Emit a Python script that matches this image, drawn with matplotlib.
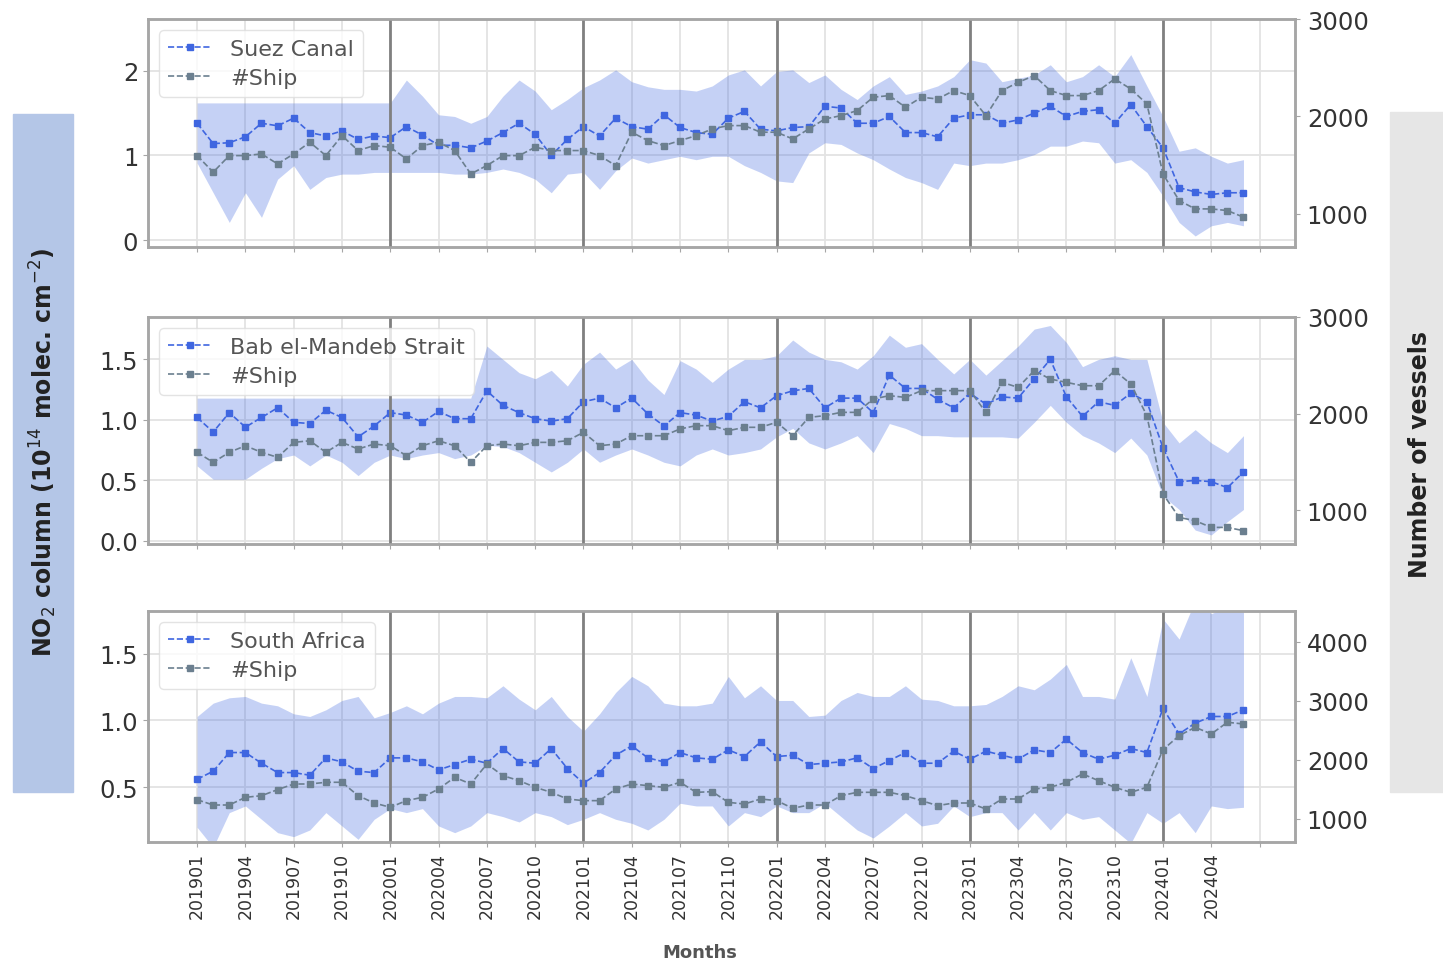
import numpy as np
import matplotlib.pyplot as plt
from matplotlib.patches import Rectangle

# month labels 2019-01 .. 2024-06
months = [f'{y}{m:02d}' for y in range(2019, 2025) for m in range(1, 13)][:66]
tick_labels = months[::3] + ['']

# Suez Canal
suez_no2 = [1.38, 1.14, 1.15, 1.22, 1.38, 1.35, 1.44, 1.27, 1.23, 1.29, 1.19, 1.23,
            1.21, 1.34, 1.24, 1.12, 1.12, 1.09, 1.17, 1.27, 1.38, 1.25, 1.00, 1.19,
            1.34, 1.23, 1.44, 1.34, 1.31, 1.48, 1.33, 1.27, 1.25, 1.44, 1.52, 1.31,
            1.29, 1.33, 1.34, 1.58, 1.56, 1.38, 1.38, 1.46, 1.27, 1.27, 1.22, 1.44,
            1.48, 1.48, 1.38, 1.42, 1.50, 1.58, 1.46, 1.52, 1.54, 1.38, 1.60, 1.34,
            1.09, 0.62, 0.57, 0.54, 0.56, 0.56]
suez_hi = [1.62, 1.62, 1.62, 1.62, 1.62, 1.62, 1.62, 1.62, 1.62, 1.62, 1.62, 1.62,
           1.62, 1.89, 1.70, 1.48, 1.46, 1.38, 1.46, 1.70, 1.89, 1.76, 1.54, 1.66,
           1.80, 1.89, 2.01, 1.87, 1.81, 1.78, 1.78, 1.76, 1.82, 1.95, 2.01, 1.82,
           1.99, 2.01, 1.86, 1.95, 1.78, 1.66, 1.82, 1.93, 1.72, 1.76, 1.82, 1.93,
           2.13, 2.09, 1.87, 1.91, 1.95, 2.07, 1.87, 1.93, 2.07, 1.93, 2.19, 1.82,
           1.46, 1.05, 1.09, 0.99, 0.91, 0.95]
suez_lo = [0.91, 0.56, 0.21, 0.56, 0.27, 0.72, 0.88, 0.60, 0.74, 0.78, 0.78, 0.80,
           0.80, 0.80, 0.80, 0.80, 0.78, 0.78, 0.80, 0.84, 0.80, 0.72, 0.56, 0.78,
           0.80, 0.60, 0.82, 0.97, 0.91, 0.95, 0.99, 0.95, 0.99, 0.99, 0.88, 0.80,
           0.70, 0.68, 1.03, 1.15, 1.13, 1.03, 0.95, 0.84, 0.74, 0.68, 0.60, 0.91,
           0.88, 0.91, 0.91, 0.95, 1.01, 1.11, 1.11, 1.17, 1.15, 0.91, 0.95, 0.80,
           0.52, 0.21, 0.05, 0.17, 0.21, 0.17]
suez_ship = [1598, 1428, 1598, 1598, 1615, 1513, 1615, 1735, 1598, 1803, 1650, 1701,
             1684, 1564, 1701, 1735, 1650, 1410, 1496, 1598, 1598, 1684, 1650, 1650,
             1650, 1598, 1496, 1838, 1752, 1701, 1752, 1803, 1872, 1906, 1906, 1838,
             1838, 1769, 1872, 1974, 2008, 2060, 2197, 2214, 2094, 2197, 2179, 2265,
             2214, 2008, 2265, 2350, 2419, 2265, 2214, 2214, 2265, 2385, 2282, 2128,
             1410, 1137, 1051, 1051, 1034, 966]

# Bab el-Mandeb Strait
bab_no2 = [1.02, 0.90, 1.06, 0.94, 1.02, 1.10, 0.98, 0.97, 1.08, 1.02, 0.86, 0.95,
           1.06, 1.04, 0.98, 1.07, 1.01, 1.01, 1.24, 1.12, 1.06, 1.01, 0.99, 1.01,
           1.15, 1.18, 1.10, 1.18, 1.05, 0.95, 1.06, 1.04, 0.99, 1.03, 1.15, 1.10,
           1.20, 1.24, 1.26, 1.10, 1.18, 1.18, 1.06, 1.37, 1.26, 1.26, 1.17, 1.10,
           1.22, 1.13, 1.19, 1.18, 1.34, 1.50, 1.19, 1.03, 1.15, 1.12, 1.22, 1.15,
           0.77, 0.49, 0.50, 0.49, 0.44, 0.57]
bab_hi = [1.18, 1.18, 1.18, 1.18, 1.18, 1.18, 1.18, 1.18, 1.18, 1.18, 1.18, 1.18,
          1.18, 1.18, 1.18, 1.18, 1.18, 1.18, 1.61, 1.50, 1.39, 1.34, 1.41, 1.28,
          1.46, 1.56, 1.42, 1.50, 1.33, 1.21, 1.49, 1.42, 1.31, 1.42, 1.50, 1.50,
          1.53, 1.66, 1.56, 1.50, 1.48, 1.42, 1.53, 1.70, 1.60, 1.63, 1.50, 1.38,
          1.50, 1.37, 1.49, 1.61, 1.75, 1.78, 1.64, 1.44, 1.50, 1.53, 1.50, 1.50,
          0.98, 0.81, 0.92, 0.81, 0.73, 0.87]
bab_lo = [0.62, 0.51, 0.51, 0.51, 0.60, 0.68, 0.71, 0.62, 0.71, 0.65, 0.54, 0.65,
          0.71, 0.68, 0.71, 0.73, 0.68, 0.71, 0.79, 0.78, 0.73, 0.65, 0.57, 0.65,
          0.76, 0.65, 0.71, 0.76, 0.71, 0.65, 0.62, 0.71, 0.76, 0.71, 0.73, 0.76,
          0.86, 0.93, 0.81, 0.76, 0.81, 0.87, 0.73, 0.97, 0.93, 0.87, 0.87, 0.86,
          0.86, 0.86, 0.86, 0.85, 0.98, 1.12, 0.98, 0.87, 0.81, 0.73, 0.85, 0.71,
          0.37, 0.26, 0.09, 0.05, 0.16, 0.26]
bab_ship = [1598, 1494, 1598, 1666, 1598, 1546, 1701, 1718, 1598, 1701, 1632, 1684,
            1666, 1563, 1666, 1718, 1666, 1494, 1666, 1684, 1666, 1701, 1701, 1718,
            1805, 1666, 1684, 1770, 1770, 1770, 1840, 1874, 1874, 1822, 1857, 1857,
            1909, 1770, 1960, 1978, 2012, 2012, 2150, 2185, 2167, 2237, 2237, 2237,
            2237, 2012, 2323, 2271, 2444, 2357, 2323, 2288, 2288, 2444, 2306, 1978,
            1166, 924, 889, 820, 820, 786]

# South Africa
sa_no2 = [0.56, 0.62, 0.76, 0.76, 0.68, 0.61, 0.61, 0.59, 0.72, 0.69, 0.62, 0.61,
          0.72, 0.72, 0.69, 0.63, 0.67, 0.71, 0.68, 0.79, 0.69, 0.68, 0.79, 0.64,
          0.53, 0.61, 0.74, 0.81, 0.72, 0.69, 0.76, 0.72, 0.71, 0.78, 0.73, 0.84,
          0.73, 0.74, 0.67, 0.68, 0.69, 0.72, 0.64, 0.70, 0.76, 0.68, 0.68, 0.77,
          0.71, 0.77, 0.74, 0.71, 0.78, 0.76, 0.86, 0.76, 0.71, 0.74, 0.79, 0.76,
          1.09, 0.90, 0.98, 1.03, 1.03, 1.08]
sa_hi = [1.03, 1.13, 1.17, 1.18, 1.13, 1.11, 1.05, 1.03, 1.08, 1.15, 1.18, 1.02,
         1.06, 1.11, 1.05, 1.13, 1.18, 1.18, 1.17, 1.26, 1.16, 1.08, 1.18, 1.03,
         0.92, 1.05, 1.21, 1.33, 1.26, 1.13, 1.11, 1.11, 1.13, 1.33, 1.17, 1.26,
         1.15, 1.15, 1.03, 1.04, 1.15, 1.21, 1.18, 1.18, 1.26, 1.16, 1.15, 1.11,
         1.11, 1.12, 1.18, 1.26, 1.23, 1.31, 1.42, 1.18, 1.18, 1.16, 1.47, 1.18,
         1.76, 1.61, 1.90, 1.80, 1.85, 1.90]
sa_lo = [0.20, 0.05, 0.31, 0.36, 0.26, 0.16, 0.13, 0.18, 0.31, 0.21, 0.11, 0.26,
         0.34, 0.31, 0.34, 0.21, 0.16, 0.21, 0.31, 0.28, 0.24, 0.31, 0.28, 0.22,
         0.26, 0.31, 0.26, 0.23, 0.18, 0.26, 0.38, 0.36, 0.36, 0.21, 0.31, 0.28,
         0.36, 0.31, 0.31, 0.38, 0.28, 0.18, 0.12, 0.21, 0.31, 0.21, 0.23, 0.36,
         0.28, 0.31, 0.31, 0.18, 0.31, 0.18, 0.31, 0.26, 0.28, 0.18, 0.08, 0.31,
         0.23, 0.31, 0.16, 0.36, 0.34, 0.35]
sa_ship = [1327, 1237, 1237, 1367, 1395, 1497, 1593, 1593, 1622, 1622, 1395, 1271,
           1198, 1311, 1367, 1508, 1706, 1593, 1932, 1734, 1650, 1537, 1452, 1339,
           1311, 1311, 1508, 1593, 1565, 1537, 1622, 1452, 1463, 1282, 1254, 1339,
           1311, 1181, 1237, 1237, 1395, 1452, 1452, 1452, 1395, 1311, 1226, 1271,
           1271, 1169, 1339, 1339, 1508, 1537, 1622, 1763, 1650, 1537, 1452, 1537,
           2175, 2412, 2554, 2441, 2639, 2610]

regions = ['Suez Canal', 'Bab el-Mandeb Strait', 'South Africa']

BLUE = '#3f66e0'
GREY = '#6b7f8f'
TXT = '#333333'


def draw_panel(rect, region, no2, lo, hi, ship, ylim, yticks, ylim2, yticks2, show_x):
    ax = fig.add_axes(rect)
    x = np.arange(len(no2))
    ax.fill_between(x, lo, hi, color='royalblue', alpha=0.3, lw=0)
    l1, = ax.plot(x, no2, ls='--', color=BLUE, lw=1.2, marker='s', ms=5,
                  label=region)
    for xi in range(12, len(no2), 12):
        ax.axvline(xi, color='#808080', lw=2, zorder=3)
    ax.set_xlim(-3.05, 68.2)
    ax.set_ylim(*ylim)
    ax.set_yticks(yticks)
    ax.set_xticks(np.arange(0, 67, 3))
    ax.grid(True, color='#e3e3e3', lw=1.3)
    ax.set_axisbelow(True)
    if show_x:
        ax.set_xticklabels(tick_labels, rotation=90, fontsize=12.5, color=TXT)
    else:
        ax.set_xticklabels([])

    ax2 = ax.twinx()
    l2, = ax2.plot(x, ship, ls='--', color=GREY, lw=1.2, marker='s', ms=4.5,
                   label='#Ship')
    ax2.set_ylim(*ylim2)
    ax2.set_yticks(yticks2)

    for a in (ax, ax2):
        for s in a.spines.values():
            s.set_color('#a6a6a6')
            s.set_linewidth(1.8)
        a.tick_params(axis='y', labelsize=17.5, labelcolor=TXT, color='#a6a6a6')
        a.tick_params(axis='x', color='#a6a6a6')
    ax2.tick_params(axis='y', pad=5)

    leg = ax2.legend(handles=[l1, l2], loc='upper left', fontsize=16,
                     framealpha=0.8, edgecolor='#dddddd', borderpad=0.4,
                     labelspacing=0.4)
    for t in leg.get_texts():
        t.set_color('#555555')
    return ax


fig = plt.figure(figsize=(14.43, 9.62), dpi=100)

L, W = 148 / 1443, (1295 - 148) / 1443


def rect(top, bottom):
    return [L, 1 - bottom / 962, W, (bottom - top) / 962]


draw_panel(rect(20, 248), regions[0], suez_no2, suez_lo, suez_hi, suez_ship,
           (-0.08, 2.61), [0, 1, 2], (660, 3000), [1000, 2000, 3000], False)
draw_panel(rect(318, 545), regions[1], bab_no2, bab_lo, bab_hi, bab_ship,
           (-0.025, 1.85), [0.0, 0.5, 1.0, 1.5], (648, 3000), [1000, 2000, 3000], False)
draw_panel(rect(612, 843), regions[2], sa_no2, sa_lo, sa_hi, sa_ship,
           (0.09, 1.82), [0.5, 1.0, 1.5], (610, 4525), [1000, 2000, 3000, 4000], True)

# side label boxes
fig.patches.append(Rectangle((13 / 1443, 1 - 793 / 962), 60 / 1443, 678 / 962,
                             transform=fig.transFigure, color='#b4c6e7', zorder=0))
fig.patches.append(Rectangle((1390 / 1443, 1 - 793 / 962), 53 / 1443, 680 / 962,
                             transform=fig.transFigure, color='#e6e6e6', zorder=0))
fig.text(43 / 1443, 1 - 452 / 962, r'NO$_2$ column (10$^{14}$ molec. cm$^{-2}$)',
         rotation=90, ha='center', va='center', fontsize=17, fontweight='bold',
         color='#222222')
fig.text(1420 / 1443, 1 - 455 / 962, 'Number of vessels', rotation=90,
         ha='center', va='center', fontsize=17, fontweight='bold', color='#222222')

fig.text(700 / 1443, 1 - 953 / 962, 'Months', ha='center', va='center',
         fontsize=13, fontweight='bold', color='#555555')
# title sits mostly above the top edge, as in the source image
fig.text(735 / 1443, 1 + 5 / 962, 'Monthly NO$_2$ and shipping activity (by region)',
         ha='center', va='baseline', fontsize=18, fontweight='bold', color='#222222')

fig.savefig('out.png', dpi=100)
